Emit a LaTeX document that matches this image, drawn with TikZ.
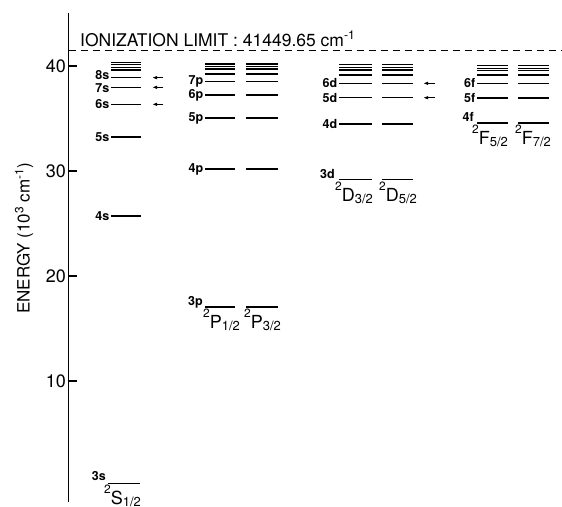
\documentclass[tikz,border=0pt]{standalone}
\usepackage{fontspec}
\setmainfont{TeX Gyre Heros}
\usetikzlibrary{arrows.meta}
\tikzset{>=latex}
\colorlet{ink}{black}
\tikzstyle{mysmallarr}=[-{Latex[length=5,width=3.5]}]
\tikzstyle{lvlline}=[ink,line width=1.1]
\tikzstyle{lvllabel}=[ink,inner sep=0,font=\fontsize{12.5}{12.5}\selectfont\bfseries]
\tikzstyle{termlabel}=[ink,inner sep=0,font=\fontsize{18}{18}\selectfont]
\newcommand\term[2]{\raisebox{11pt}{\fontsize{12}{12}\selectfont 2}#1\raisebox{-2pt}{\fontsize{13}{13}\selectfont #2}}
\newcommand\levels[3]{% left end, right end, energies
	\foreach \e in {#3}{\draw[lvlline] (#1,\e) -- (#2,\e);}
}

\begin{document}
\begin{tikzpicture}[x=1pt,y=10.5pt]
	\def\Elim{41.45}   % ionization limit (10^3 cm^-1)
	\def\xax{68.5}     % position of energy axis
	\def\tk{8}         % tick length
	\useasboundingbox (0,-1.905) rectangle (562,46.286);
	
	% AXIS
	\draw[ink,line width=1.3] (\xax,-1.5) -- (\xax,45.05);
	\foreach \v in {10,20,30,40}{
		\draw[ink,line width=1.1] (\xax,\v) --++ (\tk,0);
		\node[ink,anchor=east,inner sep=1,font=\fontsize{18}{18}\selectfont] (tick\v) at (\xax-1.5,\v) {\v};
	}
	\node[ink,rotate=90,font=\fontsize{17}{17}\selectfont] (ylab) at (24,23.6) {ENERGY (10\textsuperscript{3} cm\textsuperscript{-1})};
	
	% IONIZATION LIMIT
	\draw[ink,line width=1,dash pattern=on 7pt off 5pt] (\xax,\Elim) -- (562,\Elim);
	\node[ink,anchor=base west,inner sep=0,font=\fontsize{17.5}{17.5}\selectfont] (limit) at (80,41.9) {IONIZATION LIMIT : 41449.65 cm\textsuperscript{-1}};
	
	% S LEVELS
	\levels{111}{141}{40.35,40.1,39.84,39.62,38.89,37.97,36.35,33.24,25.71}
	\draw[lvlline] (108,0.25) -- (140,0.25);
	\foreach \n/\e in {6s/36.35,5s/33.24,4s/25.71}
		\node[lvllabel,anchor=east] (\n) at (109.5,\e) {\n};
	\node[lvllabel,anchor=east] (8s) at (109.5,39.12) {8s};
	\node[lvllabel,anchor=east] (7s) at (109.5,37.88) {7s};
	\node[lvllabel,anchor=base east,yshift=3pt] (3s) at (106,0.25) {3s};
	\node[termlabel,anchor=north west,yshift=-1pt] (S12) at (104,0.25) {\term{S}{1/2}};
	\foreach \e in {38.89,37.97,36.35}
		\draw[mysmallarr,ink,line width=1.2] (163,\e) -- (152,\e);
	
	% P LEVELS
	\levels{205}{235}{40.19,39.93,39.71,39.24,38.5,37.24,35.05,30.19,17.05}
	\levels{246}{278}{40.19,39.93,39.71,39.24,38.5,37.24,35.05,30.19,17.05}
	\foreach \n/\e in {7p/38.5,6p/37.24,5p/35.05,4p/30.19}
		\node[lvllabel,anchor=east] (\n) at (203.5,\e) {\n};
	\node[lvllabel,anchor=base east] (3p) at (203,17.2) {3p};
	\node[termlabel,anchor=north west,yshift=-2pt] (P12) at (203,17.05) {\term{P}{1/2}};
	\node[termlabel,anchor=north west,yshift=-2pt] (P32) at (244,17.05) {\term{P}{3/2}};
	
	% D LEVELS
	\levels{339}{372}{40.1,39.88,39.62,39.14,38.35,36.98,34.48,29.15}
	\levels{382}{413}{40.1,39.88,39.62,39.14,38.35,36.98,34.48,29.15}
	\foreach \n/\e in {6d/38.35,5d/36.98,4d/34.48}
		\node[lvllabel,anchor=east] (\n) at (337.5,\e) {\n};
	\node[lvllabel,anchor=base east] (3d) at (335,29.3) {3d};
	\node[termlabel,anchor=north west,yshift=-2pt] (D32) at (335,29.15) {\term{D}{3/2}};
	\node[termlabel,anchor=north west,yshift=-2pt] (D52) at (379,29.15) {\term{D}{5/2}};
	\foreach \e in {38.35,36.98}
		\draw[mysmallarr,ink,line width=1.2] (435,\e) -- (423,\e);
	
	% F LEVELS
	\levels{477}{508}{40.03,39.78,39.55,39.14,38.35,36.95,34.57}
	\levels{518}{549}{40.03,39.78,39.55,39.14,38.35,36.95,34.57}
	\foreach \n/\e in {6f/38.35,5f/36.95}
		\node[lvllabel,anchor=east] (\n) at (475.5,\e) {\n};
	\node[lvllabel,anchor=base east] (4f) at (474,34.7) {4f};
	\node[termlabel,anchor=north west,yshift=-2pt] (F52) at (472,34.57) {\term{F}{5/2}};
	\node[termlabel,anchor=north west,yshift=-2pt] (F72) at (515,34.57) {\term{F}{7/2}};
	
\end{tikzpicture}
\end{document}
